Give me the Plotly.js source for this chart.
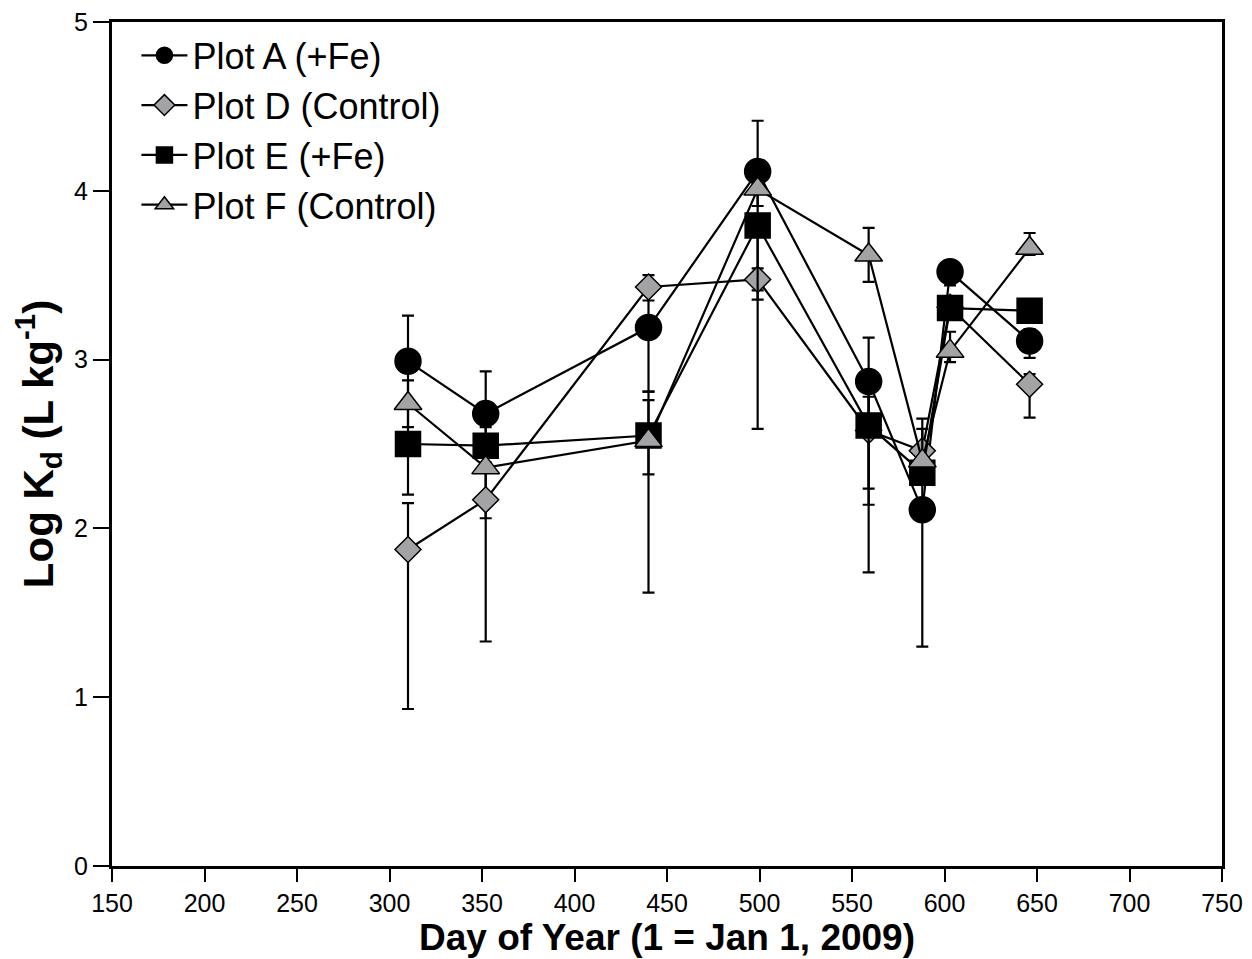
<!DOCTYPE html>
<html>
<head>
<meta charset="utf-8">
<script src="https://cdn.plot.ly/plotly-3.0.1.min.js"></script>
<style>html,body{margin:0;padding:0;background:#fff;}#chart{width:1252px;height:959px;}</style>
</head>
<body>
<div id="chart"></div>
<script>
// Day of year (1 = Jan 1, 2009)
const days = [310, 352, 440, 499, 559, 588, 603, 646];

// Log Kd values
const plotA = [2.99, 2.68, 3.19, 4.115, 2.87, 2.11, 3.52, 3.11];
const plotD = [1.875, 2.17, 3.43, 3.475, 2.58, 2.46, 3.31, 2.854];
const plotE = [2.50, 2.49, 2.55, 3.795, 2.61, 2.33, 3.305, 3.29];
const plotF = [2.74, 2.36, 2.52, 4.01, 3.62, 2.40, 3.05, 3.66];

// asymmetric error bars (upper / lower)
const plotAUp = [0.27, 0.25, 0.16, 0.30, 0.26, 0.26, 0.05, 0.07];
const plotALo = [0.79, 0.62, 0.38, 0.76, 0.73, 0.81, 0.08, 0.10];
const plotDUp = [0.275, 0.27, 0.07, 0.065, 0.20, 0.19, 0.05, 0.06];
const plotDLo = [0.945, 0.84, 0.04, 0.065, 0.344, 0.05, 0.05, 0.198];
const plotEUp = [0.05, 0.11, 0.26, 0.05, 0.26, 0.04, 0.04, 0.04];
const plotELo = [0.05, 0.05, 0.93, 1.205, 0.87, 0.04, 0.04, 0.04];
const plotFUp = [0.137, 0.03, 0.24, 0.03, 0.16, 0.19, 0.115, 0.09];
const plotFLo = [0.14, 0.03, 0.20, 0.10, 0.16, 0.03, 0.065, 0.04];

const names = ['Plot A (+Fe)', 'Plot D (Control)', 'Plot E (+Fe)', 'Plot F (Control)'];

const GRAY = '#a3a3a6';
function mk(name, y, up, lo, symbol, size, fill) {
  return {
    type: 'scatter', mode: 'lines+markers', name: name,
    x: days, y: y,
    line: {color: '#000', width: 2.2},
    marker: {symbol: symbol, size: size, color: fill, line: {color: '#000', width: 1.5}},
    error_y: {type: 'data', symmetric: false, array: up, arrayminus: lo,
              color: '#000', thickness: 2.2, width: 6}
  };
}

const data = [
  mk(names[0], plotA, plotAUp, plotALo, 'circle', 26, '#000'),
  mk(names[1], plotD, plotDUp, plotDLo, 'diamond', 20, GRAY),
  mk(names[2], plotE, plotEUp, plotELo, 'square', 25, '#000'),
  mk(names[3], plotF, plotFUp, plotFLo, 'triangle-up', 24, GRAY)
];

const FONT = 'Liberation Sans, Arial, sans-serif';
const layout = {
  width: 1252, height: 959,
  margin: {l: 112, r: 30, t: 22, b: 93, pad: 0},
  paper_bgcolor: '#fff', plot_bgcolor: '#fff',
  font: {family: FONT, color: '#000'},
  showlegend: true,
  legend: {x: 0.022, y: 0.996, xanchor: 'left', yanchor: 'top',
           itemwidth: 46,
           bgcolor: 'rgba(0,0,0,0)', borderwidth: 0,
           font: {family: FONT, size: 36, color: '#000'}},
  xaxis: {
    range: [150, 750], tick0: 150, dtick: 50,
    showline: true, linewidth: 3, linecolor: '#000', mirror: true,
    ticks: 'outside', ticklen: 13, tickwidth: 2, tickcolor: '#000',
    showgrid: false, zeroline: false,
    tickfont: {family: FONT, size: 25, color: '#000'},
    title: {text: '<b>Day of Year (1 = Jan 1, 2009)</b>', font: {family: FONT, size: 37, color: '#000'}, standoff: 4}
  },
  yaxis: {
    range: [0, 5], tick0: 0, dtick: 1,
    showline: true, linewidth: 3, linecolor: '#000', mirror: true,
    ticks: 'outside', ticklen: 16, tickwidth: 2, tickcolor: '#000',
    showgrid: false, zeroline: false,
    tickfont: {family: FONT, size: 25, color: '#000'},
    title: {text: '<b>Log K<sub>d</sub> (L kg<sup>-1</sup>)</b>', font: {family: FONT, size: 42, color: '#000'}, standoff: 8}
  }
};

Plotly.newPlot('chart', data, layout, {displayModeBar: false, staticPlot: true});
</script>
</body>
</html>
